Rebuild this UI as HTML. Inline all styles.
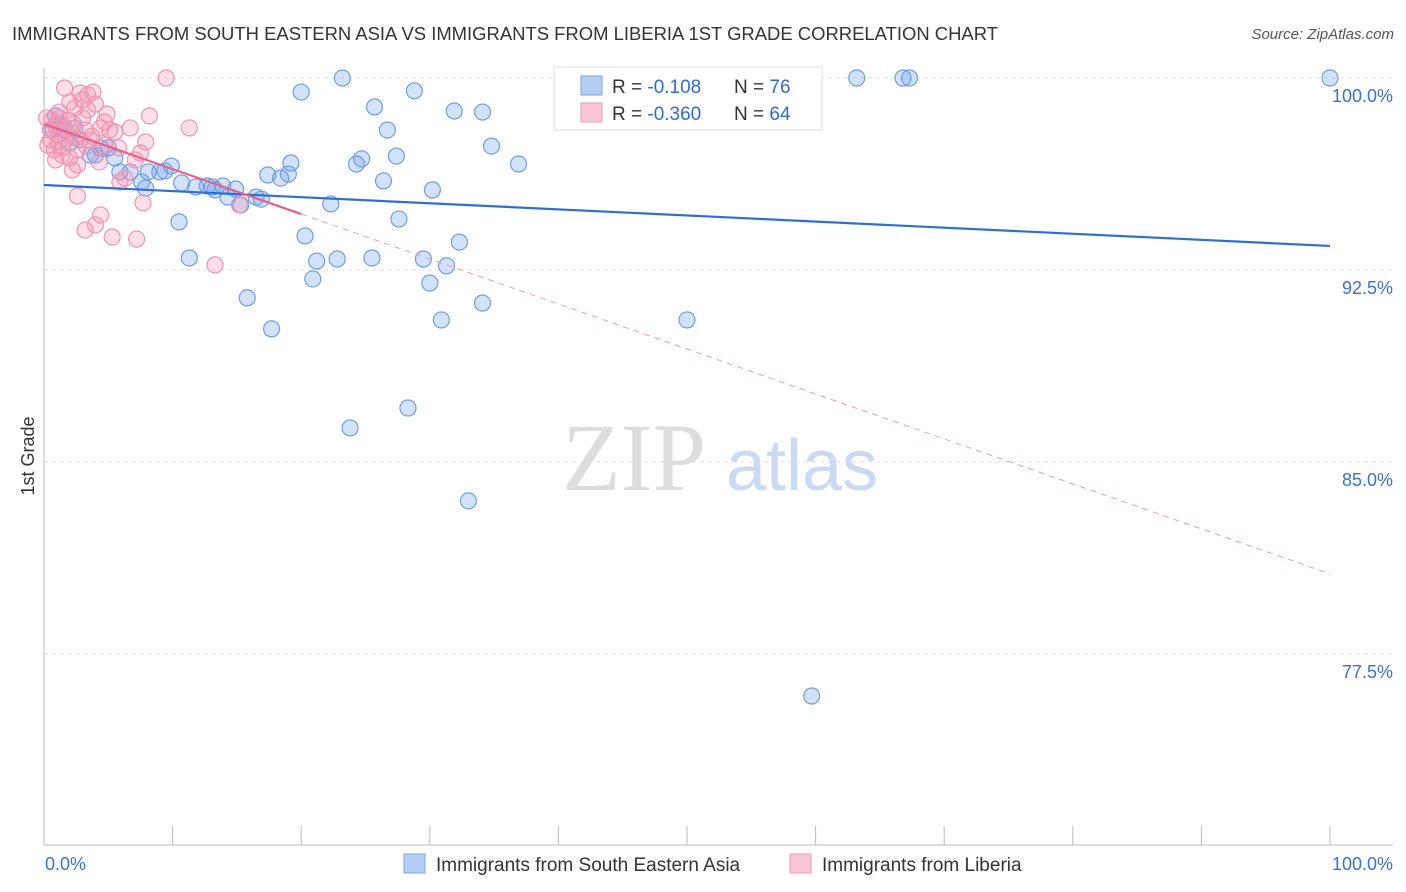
<!DOCTYPE html>
<html><head><meta charset="utf-8"><style>
body{margin:0;background:#fff;font-family:"Liberation Sans",sans-serif;}
svg{display:block}
</style></head><body>
<svg id="c" width="1406" height="892">
<text x="12" y="40" font-size="18" fill="#333" textLength="986" lengthAdjust="spacingAndGlyphs">IMMIGRANTS FROM SOUTH EASTERN ASIA VS IMMIGRANTS FROM LIBERIA 1ST GRADE CORRELATION CHART</text>
<text x="1394" y="39" font-size="15" fill="#555" text-anchor="end" font-style="italic">Source: ZipAtlas.com</text>
<text x="0" y="0" transform="translate(34,456) rotate(-90)" font-size="18" fill="#333" text-anchor="middle">1st Grade</text>
<g><text x="634" y="490" font-size="96" font-family="Liberation Serif,serif" fill="#ddd" text-anchor="middle">ZIP</text><text x="802" y="490" font-size="72" fill="#c9daf2" text-anchor="middle">atlas</text></g>
<g id="grid"></g><g id="marks"></g>
<g>
<rect x="554" y="67" width="268" height="63" fill="#fff" stroke="#ddd"/>
<rect x="581" y="76" width="21" height="19" fill="#b5cff3" stroke="#7aa6e6"/>
<rect x="581" y="103" width="21" height="19" fill="#f9c6d6" stroke="#ef9bb6"/>
<text x="612" y="93" font-size="19" fill="#333">R = <tspan fill="#2f6ad4">-0.108</tspan><tspan x="734">N = </tspan><tspan fill="#2f6ad4">76</tspan></text>
<text x="612" y="120" font-size="19" fill="#333">R = <tspan fill="#2f6ad4">-0.360</tspan><tspan x="734">N = </tspan><tspan fill="#2f6ad4">64</tspan></text>
</g>
<g>
<rect x="404" y="854" width="21" height="19" fill="#b5cff3" stroke="#7aa6e6"/>
<text x="436" y="871" font-size="19" fill="#333">Immigrants from South Eastern Asia</text>
<rect x="790" y="854" width="21" height="19" fill="#f9c6d6" stroke="#ef9bb6"/>
<text x="822" y="871" font-size="19" fill="#333">Immigrants from Liberia</text>
</g>
<text x="45" y="870" font-size="18" fill="#3b6fd6">0.0%</text>
<text x="1393" y="870" font-size="18" fill="#3b6fd6" text-anchor="end">100.0%</text>
</svg>
<script>
const yTicks=[100,92.5,85,77.5];
const yTickLabels=["100.0%","92.5%","85.0%","77.5%"];
const blueX=[23.2,43.2,63.2,66.8,67.3,100,20.0,28.8,25.7,31.9,34.1,26.7,34.8,27.4,36.9,24.3,24.7,26.4,30.2,19.2,17.4,18.4,19.0,9.9,9.4,9.0,8.1,6.7,5.9,7.6,7.9,10.7,11.8,12.7,13.1,13.9,13.3,14.9,14.3,15.3,16.5,16.9,22.3,27.6,10.5,20.3,32.3,11.3,21.2,22.8,25.5,29.5,31.3,20.9,30.0,15.8,34.1,30.9,17.7,50.0,28.3,23.8,33.0,59.7,0.9,1.6,2.4,2.8,3.6,4.4,5.0,5.5,0.7,1.2,2.0,4.0];
const blueY=[100,100,100,100,100,100,99.45,99.5,98.87,98.71,98.67,97.97,97.34,96.95,96.64,96.64,96.84,95.98,95.63,96.68,96.21,96.09,96.25,96.56,96.37,96.33,96.33,96.33,96.33,95.94,95.70,95.90,95.74,95.78,95.74,95.78,95.63,95.66,95.35,95.04,95.35,95.27,95.08,94.49,94.38,93.83,93.59,92.97,92.85,92.93,92.97,92.93,92.66,92.15,91.99,91.41,91.21,90.55,90.20,90.55,87.11,86.33,83.48,75.86,98.52,97.97,98.05,97.58,96.99,97.27,97.27,96.88,97.97,98.16,97.46,96.99];
const pinkX=[9.5,1.6,2.8,3.4,3.8,2.0,3.0,2.4,4.9,8.2,1.2,1.9,0.9,0.5,1.1,2.2,3.2,4.4,5.5,6.7,11.3,5.1,0.3,1.4,2.6,3.6,4.7,7.9,7.5,0.9,2.0,2.6,6.3,5.9,15.2,2.6,7.7,4.4,4.0,3.2,5.3,7.2,13.3,0.5,0.8,1.7,2.3,3.4,4.0,1.2,0.6,1.6,3.0,3.7,4.7,5.8,7.1,0.2,1.1,2.5,3.3,1.4,4.3,2.2];
const pinkY=[100,99.61,99.41,99.34,99.45,99.06,99.14,98.83,98.59,98.52,98.44,98.36,98.16,97.97,97.77,97.85,97.97,98.05,97.89,98.05,98.05,97.97,97.38,97.27,97.19,97.58,97.38,97.5,97.07,96.8,96.88,96.6,96.09,95.94,95.04,95.39,95.12,94.65,94.26,94.06,93.79,93.71,92.70,97.58,97.19,97.66,98.20,98.75,98.98,98.67,98.36,98.05,98.44,97.73,98.28,97.27,96.8,98.44,97.5,97.66,97.34,96.99,96.72,96.41];
const blueTrend=[95.82,93.44];
const pinkTrend=[98.20,80.63];
const NS="http://www.w3.org/2000/svg";
const X=v=>44+v*12.86, Y=v=>78+(100-v)*25.6;
const grid=document.getElementById('grid'), marks=document.getElementById('marks');
function mk(p,tag,a){const e=document.createElementNS(NS,tag);for(const k in a)e.setAttribute(k,a[k]);p.appendChild(e);return e;}
yTicks.forEach((t,i)=>{
 const l=mk(grid,'line',{x1:44,x2:1393,y1:Y(t),y2:Y(t),stroke:'#ddd','stroke-dasharray':'4,4'});
 
 
 const tx=mk(grid,'text',{x:1393,y:Y(t)+24,'font-size':18,fill:'#3b6fd6','text-anchor':'end'});
 tx.textContent=yTickLabels[i];
 
 
});
const ax=mk(grid,'line',{x1:44,x2:44,y1:68,y2:845,stroke:'#bbb'});


const bx=mk(grid,'line',{x1:44,x2:1393,y1:845,y2:845,stroke:'#bbb'});


for(let i=0;i<=10;i++){const t=mk(grid,'line',{x1:X(i*10),x2:X(i*10),y1:826,y2:845,stroke:'#bbb'});
 
 }
blueX.forEach((v,i)=>{const c=mk(marks,'circle',{cx:X(v),cy:Y(blueY[i]),r:8,fill:'rgba(110,160,235,0.3)',stroke:'#6f9de2','stroke-width':1.2});
 
 });
pinkX.forEach((v,i)=>{const c=mk(marks,'circle',{cx:X(v),cy:Y(pinkY[i]),r:8,fill:'rgba(245,150,180,0.3)',stroke:'#ef94b0','stroke-width':1.2});
 
 });
const bl=mk(marks,'line',{x1:X(0),y1:Y(blueTrend[0]),x2:X(100),y2:Y(blueTrend[1]),stroke:'#2f6fd4','stroke-width':2.2});


const pm=pinkTrend[0]+(pinkTrend[1]-pinkTrend[0])*0.2;
const pl=mk(marks,'line',{x1:X(0),y1:Y(pinkTrend[0]),x2:X(20),y2:Y(pm),stroke:'#e8608c','stroke-width':2.2});


const pd=mk(marks,'line',{x1:X(20),y1:Y(pm),x2:X(100),y2:Y(pinkTrend[1]),stroke:'#ec9ab4','stroke-width':1,'stroke-dasharray':'6,5'});


</script>
</body></html>
